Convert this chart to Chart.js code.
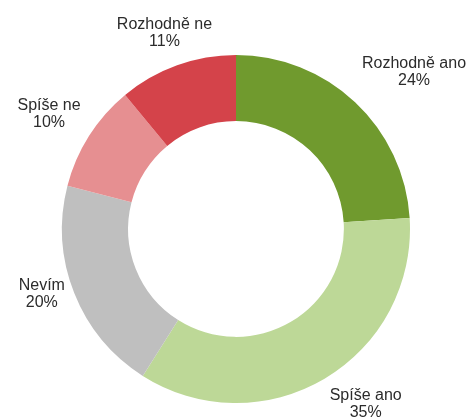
<!DOCTYPE html>
<html>
<head>
<meta charset="utf-8">
<script src="https://cdn.jsdelivr.net/npm/chart.js@4/dist/chart.umd.min.js"></script>
<style>
html,body{margin:0;padding:0;background:#fff;}
#c{display:block;}
</style>
</head>
<body>
<canvas id="c" width="468" height="417"></canvas>
<script>
const categories = ["Rozhodně ano", "Spíše ano", "Nevím", "Spíše ne", "Rozhodně ne"];
const values = [24, 35, 20, 10, 11];
const colors = ["#709a2e", "#bdd897", "#bfbfbf", "#e68f91", "#d4434a"];

const labelPlugin = {
  id: 'outerLabels',
  afterDatasetsDraw(chart) {
    const ctx = chart.ctx;
    const meta = chart.getDatasetMeta(0);
    const total = values.reduce((a, b) => a + b, 0);
    ctx.save();
    ctx.font = '16px "Liberation Sans", Arial, sans-serif';
    ctx.fillStyle = '#2b2b2b';
    ctx.textAlign = 'center';
    ctx.textBaseline = 'middle';
    const lineH = 17;
    const fx = v => Math.sign(v) * Math.min(1, Math.max(0, (Math.abs(v) - 0.3) / 0.2));
    const fy = v => Math.sign(v) * Math.min(1, Math.max(0, (Math.abs(v) - 0.4) / 0.2));
    meta.data.forEach((arc, i) => {
      const p = arc.getProps(['x', 'y', 'startAngle', 'endAngle', 'outerRadius'], true);
      const mid = (p.startAngle + p.endAngle) / 2;
      const dx = Math.cos(mid), dy = Math.sin(mid);
      const R = p.outerRadius + 10;
      const ax = p.x + R * dx, ay = p.y + R * dy;
      const l1 = categories[i];
      const l2 = Math.round(values[i] / total * 100) + '%';
      const w = Math.max(ctx.measureText(l1).width, ctx.measureText(l2).width);
      const h = lineH * 2;
      const cx = ax + (w / 2) * fx(dx);
      const cy = ay + (h / 2 + 3) * fy(dy) - 3;
      ctx.fillText(l1, cx, cy - lineH / 2);
      ctx.fillText(l2, cx, cy + lineH / 2);
    });
    ctx.restore();
  }
};

new Chart(document.getElementById('c'), {
  type: 'doughnut',
  data: {
    labels: categories,
    datasets: [{
      data: values,
      backgroundColor: colors,
      borderWidth: 0
    }]
  },
  options: {
    responsive: false,
    animation: false,
    cutout: '62%',
    layout: { padding: { left: 62, right: 58, top: 55, bottom: 14 } },
    plugins: { legend: { display: false }, tooltip: { enabled: false } }
  },
  plugins: [labelPlugin]
});
</script>
</body>
</html>
